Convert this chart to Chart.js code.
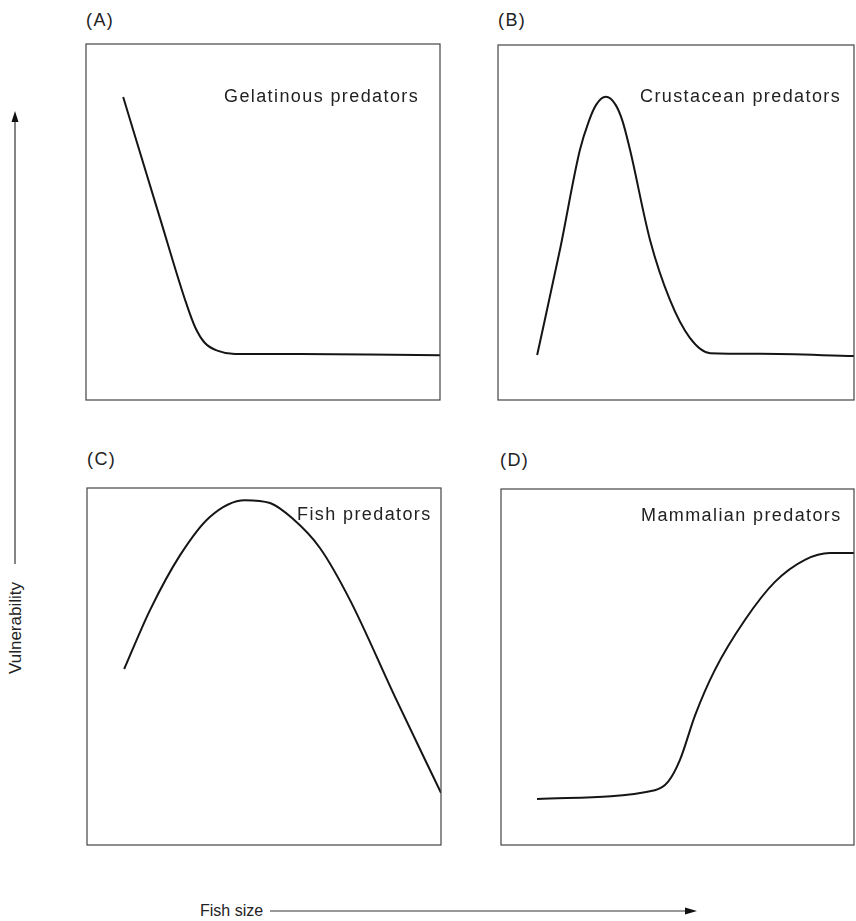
<!DOCTYPE html>
<html>
<head>
<meta charset="utf-8">
<script src="https://cdn.jsdelivr.net/npm/chart.js@4"></script>
<style>
  html, body { margin:0; padding:0; background:#fff; }
  body { width:856px; height:921px; position:relative; overflow:hidden;
         font-family:"Liberation Sans", Arial, sans-serif; color:#222; }
  .lbl { position:absolute; font-size:18px; line-height:18px; letter-spacing:1.4px; white-space:nowrap; }
  .ax { position:absolute; font-size:17px; line-height:17px; white-space:nowrap; }
  canvas { position:absolute; }
</style>
</head>
<body>
<script>
// ---- Data (x = fish size, y = vulnerability, both 0-100 relative units) ----
const gelatinousX = [10.5, 20.9, 28.0, 30.8, 33.6, 37.3, 42.1, 60.5, 80.0, 100];
const gelatinousY = [85.1, 51.1, 28.1, 20.5, 16.0, 13.8, 12.9, 12.9, 12.8, 12.6];

const crustaceanX = [11.0, 17.4, 23.0, 25.5, 27.6, 30.3, 33.0, 35.0, 37.1, 42.7, 48.3, 53.9, 59.6, 73.6, 100];
const crustaceanY = [12.7, 42.3, 70.4, 78.5, 83.2, 85.4, 83.2, 78.5, 70.4, 45.1, 28.2, 17.5, 13.2, 13.0, 12.4];

const fishX = [10.5, 17.8, 26.3, 34.7, 44.6, 51.7, 58.0, 65.8, 74.3, 87.0, 100];
const fishY = [49.3, 65.8, 81.2, 91.9, 96.6, 95.8, 91.5, 83.2, 68.6, 41.5, 14.6];

const mammalX = [10.2, 43.6, 47.3, 50.7, 55.0, 60.6, 69.1, 77.6, 86.1, 93.2, 100];
const mammalY = [12.9, 15.4, 17.7, 23.9, 36.5, 49.2, 63.2, 73.9, 80.1, 82.0, 82.0];

const panelLetters = ["(A)", "(B)", "(C)", "(D)"];
const panelNames = ["Gelatinous predators", "Crustacean predators", "Fish predators", "Mammalian predators"];
const yAxisTitle = "Vulnerability";
const xAxisTitle = "Fish size";

// ---- Layout ----
const boxes = [
  {l:86,  t:44,  w:354, h:356},
  {l:498, t:45,  w:356, h:355},
  {l:87,  t:488, w:354, h:357},
  {l:501, t:489, w:353, h:356}
];
const letterPos = [{l:86,t:11},{l:498,t:11},{l:87,t:450},{l:500,t:451}];
const namePos = [{l:224,t:87},{l:640,t:87},{l:297,t:505},{l:641,t:506}];
const seriesX = [gelatinousX, crustaceanX, fishX, mammalX];
const seriesY = [gelatinousY, crustaceanY, fishY, mammalY];

const boxPlugin = {
  id:'box',
  afterDraw(chart){
    const {ctx, chartArea:a} = chart;
    ctx.save();
    ctx.strokeStyle = '#444';
    ctx.lineWidth = 1.2;
    ctx.strokeRect(a.left, a.top, a.right - a.left, a.bottom - a.top);
    ctx.restore();
  }
};

const PAD = 3;
boxes.forEach((b, i) => {
  const c = document.createElement('canvas');
  c.style.left = (b.l - PAD) + 'px';
  c.style.top = (b.t - PAD) + 'px';
  c.style.width = (b.w + 2*PAD) + 'px';
  c.style.height = (b.h + 2*PAD) + 'px';
  c.width = b.w + 2*PAD; c.height = b.h + 2*PAD;
  document.body.appendChild(c);
  const pts = seriesX[i].map((x, k) => ({x, y: seriesY[i][k]}));
  new Chart(c, {
    type:'scatter',
    data:{ datasets:[{ data: pts, showLine:true, borderColor:'#151515', borderWidth:2,
                       pointRadius:0, cubicInterpolationMode:'monotone', fill:false }]},
    options:{
      responsive:false, animation:false, maintainAspectRatio:false,
      layout:{ padding: PAD },
      plugins:{ legend:{display:false}, tooltip:{enabled:false} },
      scales:{
        x:{ type:'linear', min:0, max:100, display:false },
        y:{ type:'linear', min:0, max:100, display:false }
      }
    },
    plugins:[boxPlugin]
  });

  const L = document.createElement('div');
  L.className = 'lbl'; L.textContent = panelLetters[i];
  L.style.left = letterPos[i].l + 'px'; L.style.top = letterPos[i].t + 'px';
  document.body.appendChild(L);
  const N = document.createElement('div');
  N.className = 'lbl'; N.textContent = panelNames[i];
  N.style.left = namePos[i].l + 'px'; N.style.top = namePos[i].t + 'px';
  document.body.appendChild(N);
});

// Shared axis titles
const yt = document.createElement('div');
yt.className = 'ax'; yt.textContent = yAxisTitle;
yt.style.left = '15px'; yt.style.top = '628px';
yt.style.transform = 'translate(-50%,-50%) rotate(-90deg)';
document.body.appendChild(yt);

const xt = document.createElement('div');
xt.className = 'ax'; xt.textContent = xAxisTitle;
xt.style.fontSize = '16px';
xt.style.left = '200px'; xt.style.top = '902px';
document.body.appendChild(xt);

// Arrows (decoration)
const svgNS = 'http://www.w3.org/2000/svg';
const svg = document.createElementNS(svgNS, 'svg');
svg.setAttribute('width', 856); svg.setAttribute('height', 921);
svg.style.position = 'absolute'; svg.style.left = '0'; svg.style.top = '0';
svg.innerHTML =
  '<line x1="15" y1="120" x2="15" y2="564" stroke="#333" stroke-width="1.2"/>' +
  '<polygon points="15,111 11.5,122 18.5,122" fill="#111"/>' +
  '<line x1="270" y1="911" x2="688" y2="911" stroke="#333" stroke-width="1.2"/>' +
  '<polygon points="697,911 685,907.5 685,914.5" fill="#111"/>';
document.body.appendChild(svg);
</script>
</body>
</html>
